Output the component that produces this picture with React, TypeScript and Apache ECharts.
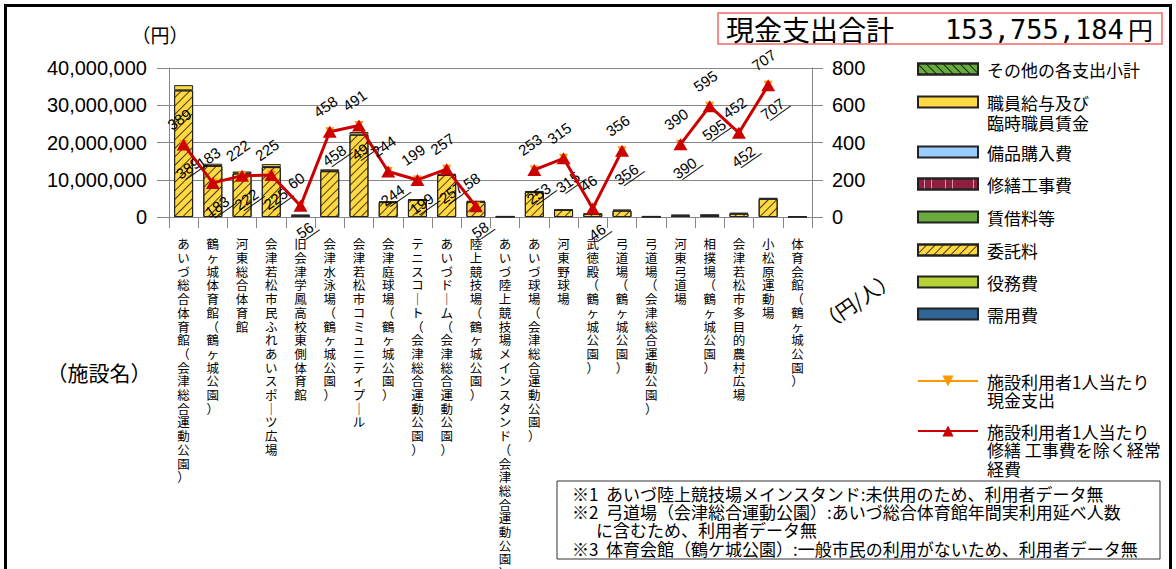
import React, { useEffect, useRef } from 'react';
import * as echarts from 'echarts';

// ---------- data ----------
const categories = [
  'あいづ総合体育館（会津総合運動公園）',
  '鶴ヶ城体育館（鶴ヶ城公園）',
  '河東総合体育館',
  '会津若松市民ふれあいスポーツ広場',
  '旧会津学鳳高校東側体育館',
  '会津水泳場（鶴ヶ城公園）',
  '会津若松市コミュニティプール',
  '会津庭球場（鶴ヶ城公園）',
  'テニスコート（会津総合運動公園）',
  'あいづドーム（会津総合運動公園）',
  '陸上競技場（鶴ヶ城公園）',
  'あいづ陸上競技場メインスタンド（会津総合運動公園）',
  'あいづ球場（会津総合運動公園）',
  '河東野球場',
  '武徳殿（鶴ヶ城公園）',
  '弓道場（鶴ヶ城公園）',
  '弓道場（会津総合運動公園）',
  '河東弓道場',
  '相撲場（鶴ヶ城公園）',
  '会津若松市多目的農村広場',
  '小松原運動場',
  '体育会館（鶴ヶ城公園）',
];

// stacked bar series (yen), bottom to top
const juyouhi = [0, 0, 0, 0, 0, 0, 0, 0, 0, 0, 0, 0, 0, 0, 0, 0, 0, 0, 0, 0, 0, 0];
const ekimuhi = [0, 0, 0, 0, 0, 0, 0, 0, 0, 0, 0, 0, 0, 0, 0, 0, 0, 0, 0, 0, 0, 0];
const itakuryo = [
  34000000, 13700000, 11700000, 13400000, 400000, 12300000, 22100000, 4000000, 4600000, 11300000, 4100000,
  100000, 6700000, 1900000, 800000, 1700000, 100000, 400000, 500000, 900000, 4900000, 100000,
];
const chinshakuryo = [0, 0, 0, 0, 0, 0, 0, 0, 0, 0, 0, 0, 0, 0, 0, 0, 0, 0, 0, 0, 0, 0];
const shuzenkouji = [0, 0, 0, 0, 0, 0, 0, 0, 0, 0, 0, 0, 0, 0, 0, 0, 0, 0, 0, 0, 0, 0];
const bihinkounyu = [0, 0, 0, 0, 0, 0, 0, 0, 0, 0, 0, 0, 0, 0, 0, 0, 0, 0, 0, 0, 0, 0];
const shokuinkyuyo = [
  1400000, 600000, 500000, 800000, 200000, 500000, 700000, 200000, 200000, 300000, 200000,
  100000, 300000, 100000, 100000, 300000, 100000, 200000, 100000, 200000, 200000, 50000,
];
const sonota = [0, 0, 0, 0, 0, 0, 0, 0, 0, 0, 0, 0, 0, 0, 0, 0, 0, 0, 0, 0, 0, 0];

// per-user values (yen / person)
const cashPerUser = [389, 183, 222, 225, 56, 458, 491, 244, 199, 257, 58, null, 253, 315, 46, 356, null, 390, 595, 452, 707, null];
const costPerUser = [389, 183, 222, 225, 60, 458, 491, 244, 199, 257, 58, null, 253, 315, 46, 356, null, 390, 595, 452, 707, null];

const leftTicks = [0, 10000000, 20000000, 30000000, 40000000];
const rightTicks = [0, 200, 400, 600, 800];

const totalLabel = '現金支出合計';
const totalValue = '153,755,184';

const notes = [
  '※1  あいづ陸上競技場メインスタンド:未供用のため、利用者データ無',
  '※2  弓道場（会津総合運動公園）:あいづ総合体育館年間実利用延べ人数',
  'に含むため、利用者データ無',
  '※3  体育会館（鶴ケ城公園）:一般市民の利用がないため、利用者データ無',
];

// ---------- styling ----------
const JP = '"Noto Sans CJK JP", "Noto Sans", sans-serif';
const NUM = '"Liberation Sans", Arial, sans-serif';
const GRID = '#868686';

const hatchSlash = {
  symbol: 'rect', symbolSize: 1, dashArrayX: [1, 0], dashArrayY: [1, 5],
  rotation: -Math.PI / 4, color: 'rgba(40,30,0,0.85)',
};
const hatchBack = {
  symbol: 'rect', symbolSize: 1, dashArrayX: [1, 0], dashArrayY: [1, 5],
  rotation: Math.PI / 4, color: 'rgba(0,0,0,0.8)',
};
const hatchVert = {
  symbol: 'rect', symbolSize: 1, dashArrayX: [1, 0], dashArrayY: [1, 6],
  rotation: Math.PI / 2, color: 'rgba(255,255,255,0.55)',
};

const barDefs = [
  { name: '需用費', data: juyouhi, color: '#2F6497', decal: null as any, cy: 314, lines: 1 },
  { name: '役務費', data: ekimuhi, color: '#B5D334', decal: null as any, cy: 282, lines: 1 },
  { name: '委託料', data: itakuryo, color: '#FFD944', decal: hatchSlash as any, cy: 250, lines: 1 },
  { name: '賃借料等', data: chinshakuryo, color: '#6AAB3E', decal: null as any, cy: 217, lines: 1 },
  { name: '修繕工事費', data: shuzenkouji, color: '#8E1F3E', decal: hatchVert as any, cy: 184, lines: 1 },
  { name: '備品購入費', data: bihinkounyu, color: '#99CCFF', decal: null as any, cy: 152, lines: 1 },
  { name: '職員給与及び\n臨時職員賃金', data: shokuinkyuyo, color: '#FFD944', decal: null as any, cy: 102, lines: 2 },
  { name: 'その他の各支出小計', data: sonota, color: '#6AAB3E', decal: hatchBack as any, cy: 69, lines: 1 },
];

const cashName = '施設利用者1人当たり\n現金支出';
const costName = '施設利用者1人当たり\n修繕 工事費を除く経常\n経費';

const toVertical = (s: string) =>
  s.split('').map((c) => (c === 'ー' ? '｜' : c)).join('\n');
const underline = (s: string) => s.split('').map((c) => c + '\u0332').join('');

// legend item whose first text line sits level with its icon
function makeLegend(name: string, cy: number, lines: number, lh: number, icon?: string, itemHeight = 11) {
  const H = lines * lh;
  const box = 2 * H - lh;
  const lg: any = {
    left: 917,
    top: cy - box / 2,
    orient: 'vertical',
    padding: 0,
    itemWidth: 60,
    itemHeight,
    selectedMode: false,
    data: [name],
    formatter: (n: string) => '\n'.repeat(lines - 1) + n,
    textStyle: {
      fontFamily: JP,
      fontSize: 17,
      color: '#000',
      lineHeight: lh,
      padding: [0, 0, 0, 4],
    },
  };
  if (icon) lg.icon = icon;
  return lg;
}

export default function App() {
  const ref = useRef<HTMLDivElement>(null);

  useEffect(() => {
    if (!ref.current) return;
    const chart = echarts.init(ref.current, undefined, { renderer: 'svg' });

    const barSeries = barDefs.map((b) => ({
      name: b.name,
      type: 'bar',
      stack: 'total',
      yAxisIndex: 0,
      barWidth: '65%',
      z: 2,
      data: b.data.map((v) => (v === 0 ? null : v)),
      itemStyle: {
        color: b.color,
        borderColor: '#222',
        borderWidth: 1,
        ...(b.decal ? { decal: b.decal } : {}),
      },
    }));

    const lineLabel = {
      show: true,
      rotate: 35,
      fontSize: 15,
      fontFamily: NUM,
      color: '#000',
    };

    const option: any = {
      animation: false,
      backgroundColor: '#fff',
      grid: { left: 169, top: 68, width: 643, height: 149, containLabel: false, outerBoundsMode: 'none' },
      xAxis: {
        type: 'category',
        data: categories,
        axisLine: { lineStyle: { color: GRID, width: 1 } },
        axisTick: { show: true, alignWithLabel: false, length: 11, lineStyle: { color: GRID } },
        axisLabel: {
          interval: 0,
          formatter: (v: string) => toVertical(v),
          fontFamily: JP,
          fontSize: 12.5,
          lineHeight: 13.7,
          margin: 20,
          color: '#000',
        },
      },
      yAxis: [
        {
          type: 'value',
          min: leftTicks[0],
          max: leftTicks[leftTicks.length - 1],
          interval: leftTicks[1] - leftTicks[0],
          axisLine: { show: true, lineStyle: { color: GRID } },
          axisTick: { show: true, length: 12, lineStyle: { color: GRID } },
          splitLine: { show: true, lineStyle: { color: GRID, width: 1 } },
          axisLabel: {
            formatter: (v: number) => v.toLocaleString('en-US'),
            fontFamily: NUM,
            fontSize: 20,
            margin: 22,
            color: '#000',
          },
        },
        {
          type: 'value',
          position: 'right',
          min: rightTicks[0],
          max: rightTicks[rightTicks.length - 1],
          interval: rightTicks[1] - rightTicks[0],
          axisLine: { show: true, lineStyle: { color: GRID } },
          axisTick: { show: true, length: 11, lineStyle: { color: GRID } },
          splitLine: { show: false },
          axisLabel: { fontFamily: NUM, fontSize: 20, margin: 20, color: '#000' },
        },
      ],
      legend: [
        ...barDefs
          .slice()
          .reverse()
          .map((b) => makeLegend(b.name, b.cy, b.lines, 20, 'rect')),
        makeLegend(cashName, 381, 2, 18.5, undefined, 14),
        makeLegend(costName, 431, 3, 18.5, undefined, 14),
      ],
      series: [
        ...barSeries,
        {
          name: cashName,
          type: 'line',
          yAxisIndex: 1,
          z: 4,
          data: cashPerUser,
          connectNulls: false,
          symbol: 'triangle',
          symbolRotate: 180,
          symbolSize: 9,
          lineStyle: { color: '#FF9900', width: 1 },
          itemStyle: { color: '#FF9900' },
          label: {
            ...lineLabel,
            position: 'bottom',
            distance: 13,
            formatter: (p: any) => underline(String(p.value)),
          },
        },
        {
          name: costName,
          type: 'line',
          yAxisIndex: 1,
          z: 5,
          data: costPerUser,
          connectNulls: false,
          symbol: 'triangle',
          symbolSize: [14, 12],
          lineStyle: { color: '#CC0000', width: 3 },
          itemStyle: { color: '#CC0000' },
          label: { ...lineLabel, position: 'top', distance: 13 },
        },
      ],
      graphic: [
        {
          type: 'rect',
          shape: { x: 5.5, y: 5.5, width: 1165, height: 640 },
          style: { fill: 'none', stroke: '#000', lineWidth: 3 },
          silent: true,
        },
        {
          type: 'rect',
          shape: { x: 718, y: 13, width: 444, height: 31 },
          style: { fill: '#fff', stroke: '#F26B6B', lineWidth: 1.5 },
          silent: true,
        },
        {
          type: 'text',
          x: 726,
          y: 29,
          style: { text: totalLabel, font: `28px ${JP}`, fill: '#000', align: 'left', verticalAlign: 'middle' },
        },
        {
          type: 'text',
          x: 945,
          y: 29,
          style: { text: totalValue, font: `27px "DejaVu Sans Mono", monospace`, fill: '#000', align: 'left', verticalAlign: 'middle' },
        },
        {
          type: 'text',
          x: 1128,
          y: 29,
          style: { text: '円', font: `25px ${JP}`, fill: '#000', align: 'left', verticalAlign: 'middle' },
        },
        {
          type: 'text',
          x: 160,
          y: 34,
          style: { text: '（円）', font: `19px ${JP}`, fill: '#000', align: 'center', verticalAlign: 'middle' },
        },
        {
          type: 'text',
          x: 99,
          y: 372,
          style: { text: '（施設名）', font: `21px ${JP}`, fill: '#000', align: 'center', verticalAlign: 'middle' },
        },
        {
          type: 'text',
          x: 857,
          y: 300,
          rotation: 0.6,
          style: { text: '（円/人）', font: `20px ${JP}`, fill: '#000', align: 'center', verticalAlign: 'middle' },
        },
        {
          type: 'rect',
          shape: { x: 557, y: 481, width: 603, height: 78 },
          style: { fill: '#fff', stroke: '#333', lineWidth: 1 },
          silent: true,
        },
        {
          type: 'text',
          x: 572,
          y: 493,
          style: { text: notes[0], font: `17px ${JP}`, fill: '#000', align: 'left', verticalAlign: 'middle' },
        },
        {
          type: 'text',
          x: 572,
          y: 511,
          style: { text: notes[1], font: `17px ${JP}`, fill: '#000', align: 'left', verticalAlign: 'middle' },
        },
        {
          type: 'text',
          x: 596,
          y: 529,
          style: { text: notes[2], font: `17px ${JP}`, fill: '#000', align: 'left', verticalAlign: 'middle' },
        },
        {
          type: 'text',
          x: 572,
          y: 548,
          style: { text: notes[3], font: `17px ${JP}`, fill: '#000', align: 'left', verticalAlign: 'middle' },
        },
      ],
    };

    chart.setOption(option);
    return () => chart.dispose();
  }, []);

  return (
    <div
      ref={ref}
      style={{ position: 'fixed', left: 0, top: 0, width: 1176, height: 569, background: '#fff' }}
    />
  );
}
